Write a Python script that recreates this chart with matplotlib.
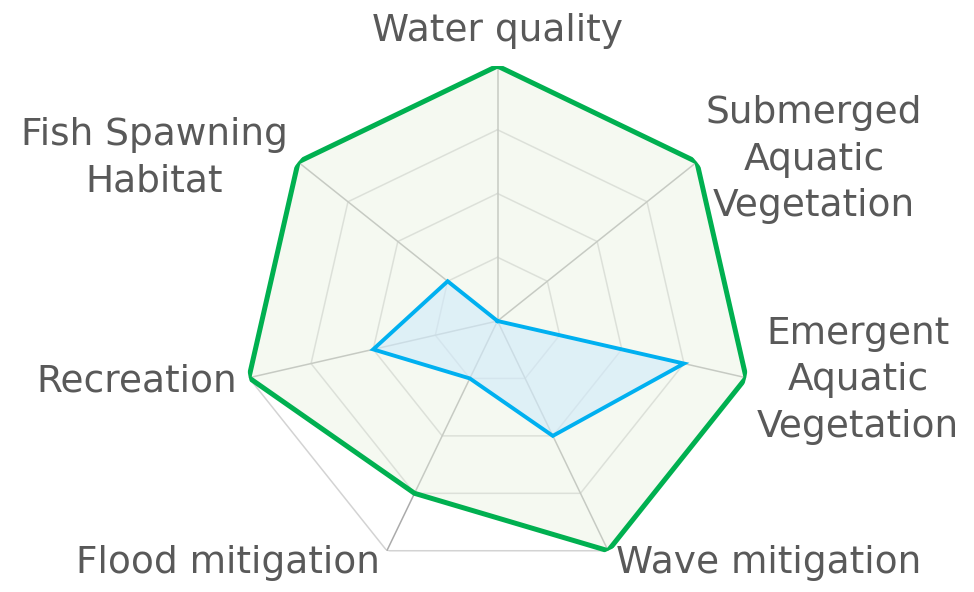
import numpy as np
import matplotlib
matplotlib.use("Agg")
import matplotlib.pyplot as plt

# axes of the radar, clockwise from the top
categories = ["Water quality", "Submerged\nAquatic\nVegetation",
              "Emergent\nAquatic\nVegetation", "Wave mitigation",
              "Flood mitigation", "Recreation", "Fish Spawning\nHabitat"]
potential = [1.0, 1.0, 1.0, 1.0, 0.75, 1.0, 1.0]
current = [0.0, 0.0, 0.75, 0.5, 0.25, 0.5, 0.25]
grid_levels = [0.25, 0.5, 0.75, 1.0]

# label placement: offset in pixels (to last baseline) from the outer vertex
label_pos = [(0, 25, "center"), (117, -54, "center"), (112, -59, "center"),
             (8, -22, "left"), (-7, -22, "right"), (-12, -14, "right"),
             (-144, -29, "center")]

n = len(categories)
theta = np.arange(n) * 2 * np.pi / n
theta_c = np.append(theta, theta[0])


def closed(v):
    return np.append(v, v[0])


fig = plt.figure(figsize=(9.74, 5.92), dpi=100)
ax = fig.add_axes([242.5 / 974, 16 / 592, 510 / 974, 510 / 592], projection="polar")
ax.set_theta_offset(np.pi / 2)
ax.set_theta_direction(-1)
ax.set_ylim(0, 1)
ax.grid(False)
ax.set_xticks([]); ax.set_yticks([])
ax.spines["polar"].set_visible(False)
ax.patch.set_visible(False)

for lvl in grid_levels:
    ax.plot(theta_c, [lvl] * (n + 1), color="#D3D3D3", lw=1.1, zorder=1)
for t in theta:
    ax.plot([t, t], [0, 1], color="#ABABAB", lw=1.1, zorder=1)

ax.fill(theta_c, closed(potential), color="#E9F2E1", alpha=0.45, lw=0, zorder=2)
ax.plot(theta_c, closed(potential), color="#00B050", lw=3.6,
        solid_joinstyle="miter", zorder=4)
ax.fill(theta_c, closed(current), color="#D0EAFB", alpha=0.6, lw=0, zorder=3)
ax.plot(theta_c, closed(current), color="#00B0F0", lw=2.8,
        solid_joinstyle="miter", zorder=5)

for t, label, (dx, dy, ha) in zip(theta, categories, label_pos):
    ax.annotate(label, xy=(t, 1), xytext=(dx, dy), textcoords="offset pixels",
                ha=ha, va="baseline", fontsize=27, color="#595959",
                linespacing=1.37, annotation_clip=False)

fig.savefig("out.png", dpi=100)
plt.close(fig)
